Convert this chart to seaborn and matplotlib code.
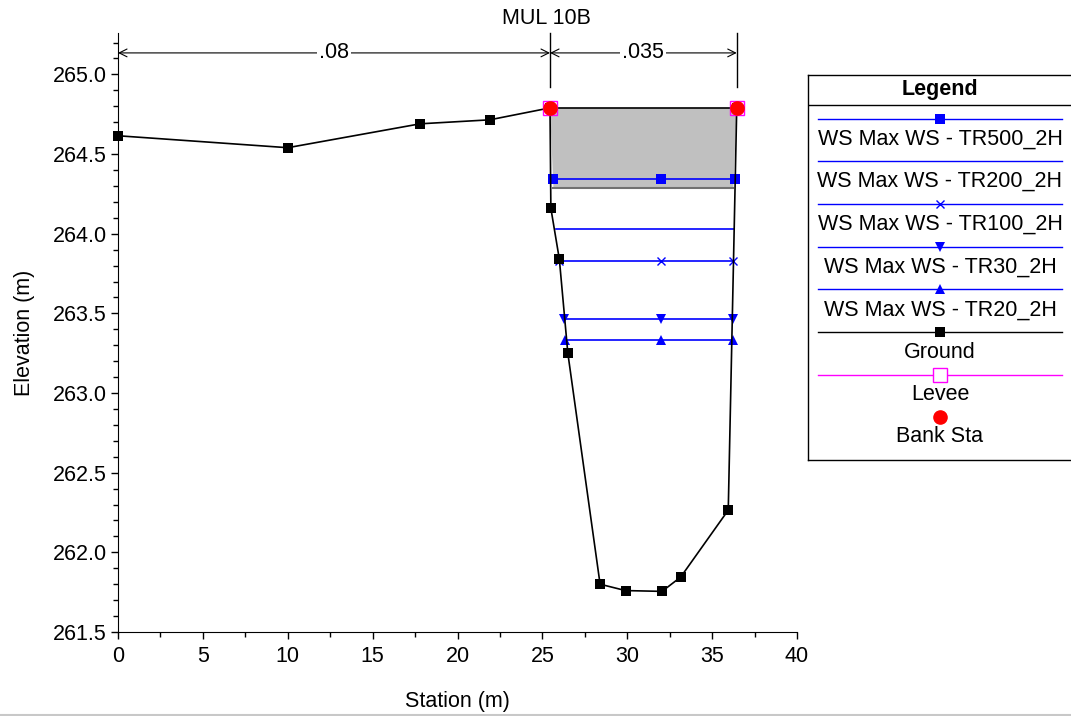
import numpy as np
import pandas as pd
import matplotlib
matplotlib.use("Agg")
import matplotlib.pyplot as plt
from matplotlib.ticker import MultipleLocator
import seaborn as sns

# datos de la seccion MUL 10B
ground_sta = [0, 10.0, 17.8, 21.9, 25.45, 25.5, 26.0, 26.5, 28.4, 29.9, 32.05, 33.15, 35.95, 36.45]
ground_elev = [264.615, 264.54, 264.69, 264.715, 264.79, 264.16, 263.84, 263.25, 261.80, 261.76, 261.755, 261.845, 262.265, 264.79]

ws_names = ["WS Max WS - TR500_2H", "WS Max WS - TR200_2H", "WS Max WS - TR100_2H",
            "WS Max WS - TR30_2H", "WS Max WS - TR20_2H"]
ws_elev = [264.345, 264.03, 263.83, 263.465, 263.335]
ws_left = [25.6, 25.8, 26.0, 26.3, 26.35]
ws_right = [36.35, 36.3, 36.25, 36.25, 36.25]
ws_mid = 32.0
ws_markers = ["s", None, "x", "v", "^"]

bank_sta = [25.45, 36.45]
bank_elev = [264.79, 264.79]

# area gris (obstruccion)
obs_sta = [25.45, 36.45, 36.25, 25.65]
obs_elev = [264.79, 264.79, 264.29, 264.29]

n_vals = [".08", ".035"]
n_limits = [0, 25.45, 36.45]
n_elev = 265.135

plt.rcParams['font.family'] = ['Liberation Sans', 'DejaVu Sans']
fs = 15.5

fig = plt.figure(figsize=(10.71, 7.16), dpi=100)
ax = fig.add_axes([118/1071, 84/716, 679/1071, 599/716])

ax.fill(obs_sta, obs_elev, facecolor="#c0c0c0", edgecolor="none", zorder=1)
ax.plot(obs_sta[:2], obs_elev[:2], color="black", lw=1.2, zorder=2)
ax.plot(obs_sta[2:], obs_elev[2:], color="#707070", lw=1.5, zorder=2)

for name, elev, xl, xr, mk in zip(ws_names, ws_elev, ws_left, ws_right, ws_markers):
    df = pd.DataFrame({"x": [xl, ws_mid, xr], "y": [elev] * 3})
    if mk is None:
        sns.lineplot(data=df, x="x", y="y", ax=ax, color="blue", lw=1.2, estimator=None, sort=False, zorder=3)
    else:
        sns.lineplot(data=df, x="x", y="y", ax=ax, color="blue", lw=1.2, marker=mk,
                     markersize=7 if mk != "x" else 6, markeredgecolor="blue", markeredgewidth=1 if mk == "x" else 0,
                     estimator=None, sort=False, zorder=3)

gdf = pd.DataFrame({"x": ground_sta, "y": ground_elev})
sns.lineplot(data=gdf, x="x", y="y", ax=ax, color="black", lw=1.2, marker="s", markersize=6.5,
             markeredgewidth=0, estimator=None, sort=False, zorder=4, clip_on=False)

ax.plot(bank_sta, bank_elev, ls="none", marker="s", markersize=10, markerfacecolor="none",
        markeredgecolor="magenta", markeredgewidth=1, zorder=5)
ax.plot(bank_sta, bank_elev, ls="none", marker="o", markersize=9.5, color="red", zorder=6)

# lineas de Manning
for i, nv in enumerate(n_vals):
    a, b = n_limits[i], n_limits[i + 1]
    ax.annotate("", xy=(a, n_elev), xytext=(b, n_elev),
                arrowprops=dict(arrowstyle="<->", color="black", lw=0.8, shrinkA=0, shrinkB=0,
                                mutation_scale=14), annotation_clip=False)
    ax.text((a + b) / 2, n_elev, nv, ha="center", va="center", fontsize=fs,
            bbox=dict(facecolor="white", edgecolor="none", pad=1.5), zorder=7)
for s in n_limits[1:]:
    ax.plot([s, s], [264.92, 265.26], color="black", lw=1, clip_on=False)

ax.set_xlim(0, 40)
ax.set_ylim(261.5, 265.26)
ax.xaxis.set_major_locator(MultipleLocator(5))
ax.xaxis.set_minor_locator(MultipleLocator(2.5))
ax.yaxis.set_major_locator(MultipleLocator(0.5))
ax.yaxis.set_minor_locator(MultipleLocator(0.1))
ax.yaxis.set_major_formatter(matplotlib.ticker.FormatStrFormatter("%.1f"))
ax.tick_params(which="major", direction="out", length=5, width=1, labelsize=fs, pad=3)
ax.tick_params(axis="x", which="major", pad=5)
ax.tick_params(which="minor", direction="out", length=3.5, width=1)
for sp in ["top", "right"]:
    ax.spines[sp].set_visible(False)
ax.spines["left"].set_bounds(261.5, 265.26)
ax.set_xlabel("Station (m)", fontsize=fs, labelpad=17)
ax.set_ylabel("Elevation (m)", fontsize=fs, labelpad=13)
fig.text(546/1071, 1 - 19/716, "MUL 10B", ha="center", va="center", fontsize=fs)

# leyenda
lax = fig.add_axes([808/1071, 1 - 460/716, 300/1071, 385/716])
lax.set_xlim(808, 1108)
lax.set_ylim(460, 75)
lax.set_xticks([])
lax.set_yticks([])
for sp in lax.spines.values():
    sp.set_linewidth(1)
lax.axhline(105, color="black", lw=1)
lax.text(940, 89, "Legend", ha="center", va="center", fontsize=fs, fontweight="bold")
leg_y = [119, 161, 204, 246.7, 289, 332, 374.7]
leg_txt = [139, 181, 224, 267, 310, 352, 394]
leg_col = ["blue"] * 5 + ["black", "magenta"]
leg_mk = ws_markers + ["s", "s"]
leg_lab = ws_names + ["Ground", "Levee"]
for yy, ty, c, mk, lab in zip(leg_y, leg_txt, leg_col, leg_mk, leg_lab):
    lax.plot([818, 1062], [yy, yy], color=c, lw=1)
    if mk is not None:
        if lab == "Levee":
            lax.plot([940], [yy], marker="s", markersize=10, markerfacecolor="white",
                     markeredgecolor="magenta", markeredgewidth=1)
        elif mk == "x":
            lax.plot([940], [yy], marker="x", markersize=6, color=c, markeredgewidth=1)
        else:
            lax.plot([940], [yy], marker=mk, markersize=7, color=c, markeredgewidth=0)
    lax.text(940, ty, lab, ha="center", va="center", fontsize=fs)
lax.plot([940], [416.7], marker="o", markersize=9.5, color="red")
lax.text(940, 437, "Bank Sta", ha="center", va="center", fontsize=fs)

fig.add_artist(plt.Line2D([0, 1], [1.5/716, 1.5/716], color="#c8c8c8", lw=1.5))

fig.savefig("out.png", dpi=100)
